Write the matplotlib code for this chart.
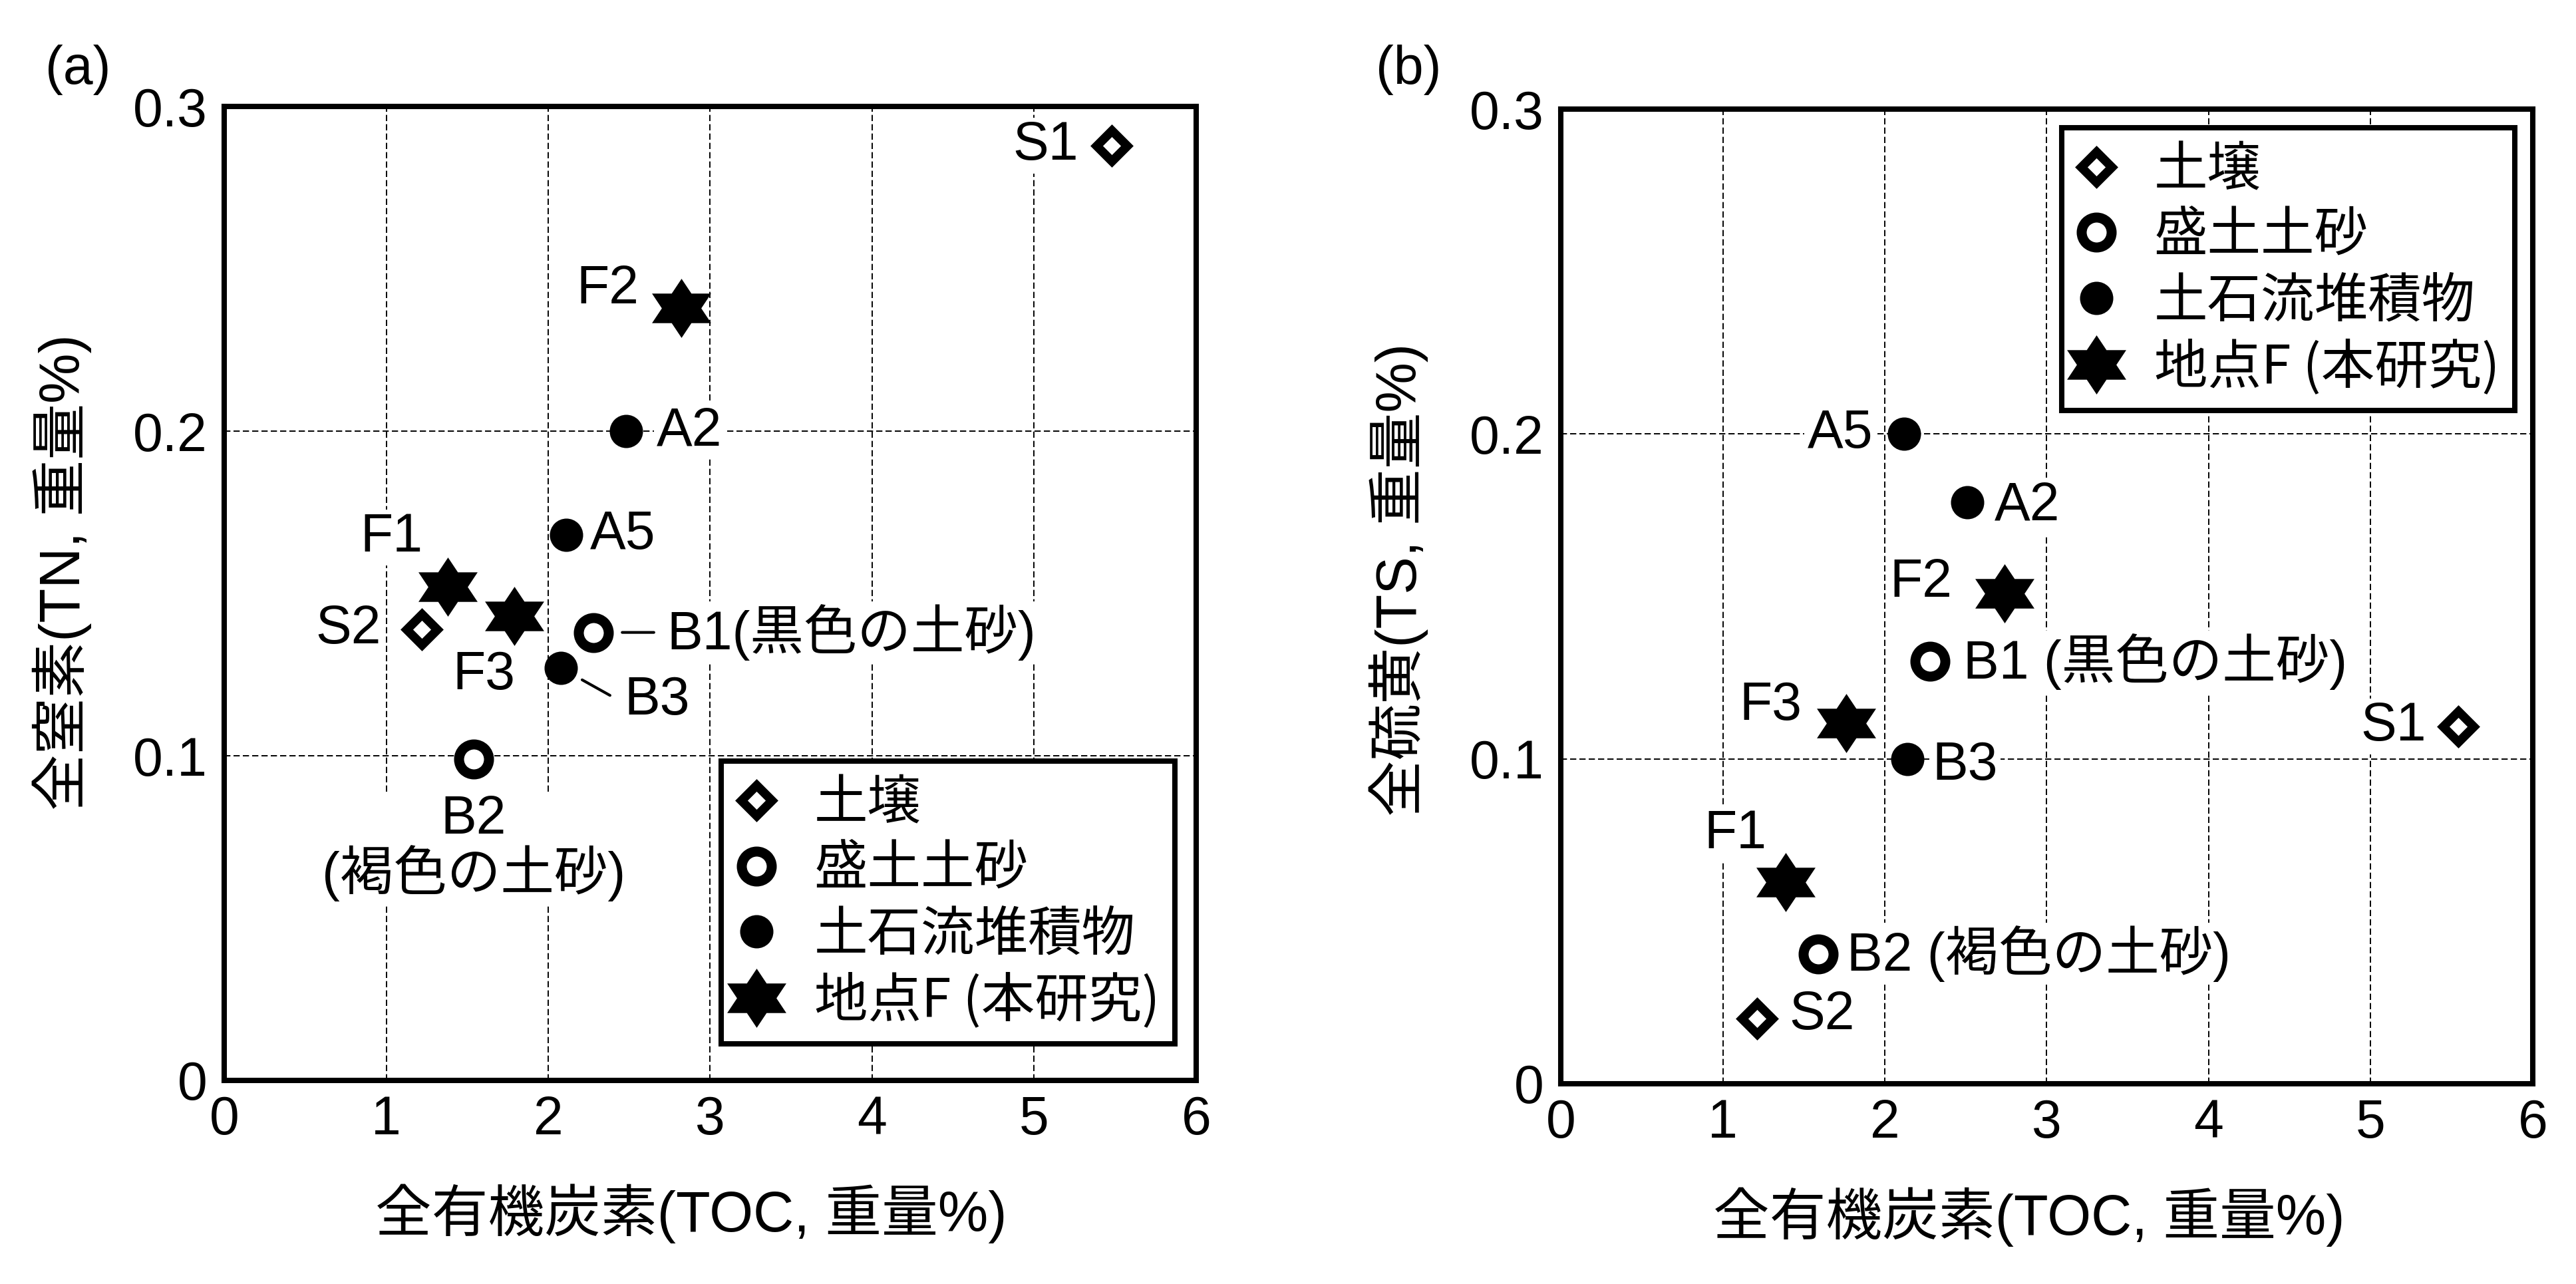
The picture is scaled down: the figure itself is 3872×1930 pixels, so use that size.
import numpy as np
import matplotlib
matplotlib.use('Agg')
import matplotlib.pyplot as plt
from matplotlib.path import Path

plt.rcParams['font.family'] = ['Liberation Sans', 'Noto Sans CJK JP']
plt.rcParams['font.size'] = 29

# --- data ---
# (a) TOC vs TN
soil_a_toc = [5.48, 1.22]; soil_a_tn = [0.288, 0.139]          # S1, S2
fill_a_toc = [2.28, 1.54]; fill_a_tn = [0.138, 0.099]          # B1, B2
debris_a_toc = [2.48, 2.11, 2.08]; debris_a_tn = [0.200, 0.168, 0.127]  # A2, A5, B3
site_a_toc = [1.38, 2.82, 1.79]; site_a_tn = [0.152, 0.238, 0.143]      # F1, F2, F3

# (b) TOC vs TS
soil_b_toc = [5.54, 1.21]; soil_b_ts = [0.110, 0.020]          # S1, S2
fill_b_toc = [2.28, 1.59]; fill_b_ts = [0.130, 0.040]          # B1, B2
debris_b_toc = [2.51, 2.12, 2.14]; debris_b_ts = [0.179, 0.200, 0.100]  # A2, A5, B3
site_b_toc = [1.39, 2.74, 1.76]; site_b_ts = [0.062, 0.151, 0.111]      # F1, F2, F3

legend_labels = ['土壌', '盛土土砂', '土石流堆積物', '地点F (本研究)']
xticks = [0, 1, 2, 3, 4, 5, 6]
yticks = [0, 0.1, 0.2, 0.3]
ytick_labels = ['0', '0.1', '0.2', '0.3']

# hexagram marker (a bit wider than a regular one, like the original)
w = 1.0
hexa = Path([(0, 1), (-w/3, 0.5), (-w, 0.5), (-2*w/3, 0), (-w, -0.5), (-w/3, -0.5),
             (0, -1), (w/3, -0.5), (w, -0.5), (2*w/3, 0), (w, 0.5), (w/3, 0.5), (0, 1)],
            closed=True)

fig = plt.figure(figsize=(19.36, 9.65), dpi=200)
ax1 = fig.add_axes([0.08704, 0.15855, 0.3773, 0.7585])
ax2 = fig.add_axes([0.6059, 0.15596, 0.3773, 0.759])

box = dict(boxstyle='square,pad=0.05', fc='white', ec='none')


def setup(ax, ylab, xlc, ylc):
    ax.set_xlim(0, 6)
    ax.set_ylim(0, 0.3)
    ax.set_xticks(xticks)
    ax.set_yticks(yticks)
    ax.set_yticklabels(ytick_labels)
    ax.tick_params(length=0, labelsize=29)
    ax.tick_params(axis='x', pad=8)
    ax.tick_params(axis='y', pad=9)
    for s in ax.spines.values():
        s.set_linewidth(2.9)
    ax.set_axisbelow(True)
    ax.grid(True, color='black', lw=0.7, dashes=(4.8, 2.4))
    ax.set_xlabel('全有機炭素(TOC, 重量%)', fontsize=30.5)
    ax.set_ylabel(ylab, fontsize=30.5)
    ax.xaxis.set_label_coords(xlc, -0.106)
    ax.yaxis.set_label_coords(-0.136, ylc)


def draw(ax, soil, fill, debris, site):
    ax.plot(*soil, ls='none', marker='D', ms=11.8, mew=4.8, mfc='white', mec='black', zorder=4)
    ax.plot(*fill, ls='none', marker='o', ms=16.2, mew=5.4, mfc='white', mec='black', zorder=4)
    ax.plot(*debris, ls='none', marker='o', ms=17, mfc='black', mec='black', zorder=4)
    ax.plot(*site, ls='none', marker=hexa, ms=32, mfc='black', mec='black', mew=0, zorder=4)


def lab(ax, text, x, y, dx, dy, ha, va='center', **kw):
    ax.annotate(text, (x, y), xytext=(dx, dy), textcoords='offset points',
                ha=ha, va=va, fontsize=29, bbox=box, zorder=3, **kw)


# (a)
setup(ax1, '全窒素(TN, 重量%)', 0.4805, 0.522)
draw(ax1, (soil_a_toc, soil_a_tn), (fill_a_toc, fill_a_tn),
     (debris_a_toc, debris_a_tn), (site_a_toc, site_a_tn))
lab(ax1, 'S1', soil_a_toc[0], soil_a_tn[0], -18, 0, 'right')
lab(ax1, 'S2', soil_a_toc[1], soil_a_tn[1], -22, 0, 'right')
lab(ax1, 'B1(黒色の土砂)', fill_a_toc[0], fill_a_tn[0], 39.6, 0, 'left',
    arrowprops=dict(arrowstyle='-', lw=1.5, color='black', shrinkA=5.5, shrinkB=15.5))
lab(ax1, 'B2\n(褐色の土砂)', fill_a_toc[1], fill_a_tn[1], 0, -19, 'center', va='top',
    multialignment='center', linespacing=1.0)
lab(ax1, 'A2', debris_a_toc[0], debris_a_tn[0], 16.6, 0, 'left')
lab(ax1, 'A5', debris_a_toc[1], debris_a_tn[1], 13, 0, 'left')
lab(ax1, 'B3', debris_a_toc[2], debris_a_tn[2], 34, -17.6, 'left',
    arrowprops=dict(arrowstyle='-', lw=1.5, color='black', relpos=(0, 0.45),
                    shrinkA=7, shrinkB=13))
lab(ax1, 'F1', site_a_toc[0], site_a_tn[0], -30.6, 26.6, 'center')
lab(ax1, 'F2', site_a_toc[1], site_a_tn[1], -22.7, 10, 'right')
lab(ax1, 'F3', site_a_toc[2], site_a_tn[2], -16.2, -32, 'center')

# (b)
setup(ax2, '全硫黄(TS, 重量%)', 0.482, 0.517)
draw(ax2, (soil_b_toc, soil_b_ts), (fill_b_toc, fill_b_ts),
     (debris_b_toc, debris_b_ts), (site_b_toc, site_b_ts))
lab(ax2, 'S1', soil_b_toc[0], soil_b_ts[0], -17.3, 0, 'right')
lab(ax2, 'S2', soil_b_toc[1], soil_b_ts[1], 17.6, 1.8, 'left')
lab(ax2, 'B1 (黒色の土砂)', fill_b_toc[0], fill_b_ts[0], 18, 0, 'left')
lab(ax2, 'B2 (褐色の土砂)', fill_b_toc[1], fill_b_ts[1], 15.5, 0, 'left')
lab(ax2, 'A2', debris_b_toc[0], debris_b_ts[0], 14.8, -2, 'left')
lab(ax2, 'A5', debris_b_toc[1], debris_b_ts[1], -17, 0, 'right')
lab(ax2, 'B3', debris_b_toc[2], debris_b_ts[2], 13.3, -3.6, 'left')
lab(ax2, 'F1', site_b_toc[0], site_b_ts[0], -10.4, 26, 'right')
lab(ax2, 'F2', site_b_toc[1], site_b_ts[1], -28.4, 5.8, 'right')
lab(ax2, 'F3', site_b_toc[2], site_b_ts[2], -24, 9.4, 'right')

# legends
for ax, loc, anchor in [(ax1, 'lower right', (0.978, 0.0376)),
                        (ax2, 'upper right', (0.9815, 0.981))]:
    leg = ax.legend(ax.lines[:4], legend_labels, loc=loc, bbox_to_anchor=anchor,
                    borderaxespad=0, prop={'family': ['Noto Sans CJK JP'], 'size': 29},
                    handlelength=0.75, handletextpad=0.7,
                    borderpad=0.28, labelspacing=0.2, fancybox=False, framealpha=1,
                    edgecolor='black')
    leg.get_frame().set_linewidth(2.9)
    leg.set_zorder(6)

fig.text(68/3872, 1 - 126/1930, '(a)', fontsize=29, va='baseline')
fig.text(2068/3872, 1 - 126/1930, '(b)', fontsize=29, va='baseline')

fig.savefig('out.png', dpi=200)
